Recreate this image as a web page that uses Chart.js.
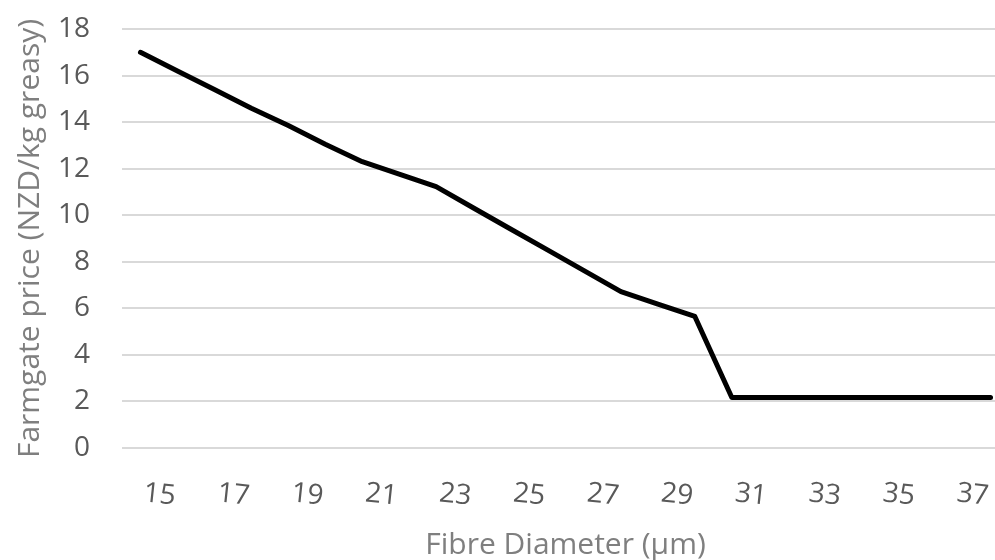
<!DOCTYPE html>
<html>
<head>
<meta charset="utf-8">
<script src="https://cdn.jsdelivr.net/npm/chart.js@4.4.1/dist/chart.umd.min.js"></script>
<style>
  html, body { margin: 0; padding: 0; background: #fff; overflow: hidden; }
  #wrap { width: 1024px; height: 560px; }
</style>
</head>
<body>
<div id="wrap"><canvas id="myChart" width="1024" height="560"></canvas></div>
<script>
// fibre diameter categories (micron), one per integer
var diameters = ['15', '16', '17', '18', '19', '20', '21', '22', '23', '24', '25', '26',
                 '27', '28', '29', '30', '31', '32', '33', '34', '35', '36', '37', '38'];
// farmgate price, NZD/kg greasy
var prices = [17.0, 16.2, 15.4, 14.6, 13.85, 13.05, 12.3, 11.77, 11.23, 10.32, 9.42, 8.52,
              7.62, 6.72, 6.18, 5.65, 2.17, 2.17, 2.17, 2.17, 2.17, 2.17, 2.17, 2.17];
var yTicks = [0, 2, 4, 6, 8, 10, 12, 14, 16, 18];

var tickColor = '#595959';
var titleColor = '#7f7f7f';
var gridColor = '#d9d9d9';
var fontFamily = '"Open Sans", "Liberation Sans", sans-serif';

var ctx = document.getElementById('myChart').getContext('2d');
var chart = new Chart(ctx, {
    type: 'line',
    data: {
        labels: diameters,
        datasets: [{
            label: 'Farmgate price',
            data: prices,
            borderColor: '#000000',
            borderWidth: 5,
            borderCapStyle: 'round',
            borderJoinStyle: 'round',
            pointRadius: 0,
            tension: 0,
            fill: false
        }]
    },
    options: {
        responsive: false,
        animation: false,
        layout: { padding: { left: 0, right: 15, top: 29, bottom: 0 } },
        plugins: {
            legend: { display: false },
            tooltip: { enabled: false }
        },
        scales: {
            x: {
                offset: true,
                grid: { display: false, drawTicks: false },
                border: { display: false },
                ticks: {
                    autoSkip: false,
                    minRotation: -6,
                    maxRotation: -6,
                    labelOffset: 35,
                    padding: 32,
                    color: tickColor,
                    font: { family: fontFamily, size: 28 },
                    callback: function(value, index) {
                        return index % 2 === 0 ? diameters[index] : '';
                    }
                },
                title: {
                    display: true,
                    text: 'Fibre Diameter (µm)',
                    color: titleColor,
                    font: { family: fontFamily, size: 30, lineHeight: 1 },
                    padding: { top: 0, bottom: 0 }
                },
                afterFit: function(scale) {
                    scale.height = 112;
                }
            },
            y: {
                min: 0,
                max: 18,
                afterBuildTicks: function(scale) {
                    scale.ticks = yTicks.map(function(v) { return { value: v }; });
                },
                grid: { color: gridColor, lineWidth: 2, drawTicks: false },
                border: { display: false },
                ticks: {
                    padding: 32,
                    color: tickColor,
                    font: { family: fontFamily, size: 28 }
                },
                title: {
                    display: true,
                    text: 'Farmgate price (NZD/kg greasy)',
                    color: titleColor,
                    font: { family: fontFamily, size: 30, lineHeight: 1.2 },
                    padding: { top: 12, bottom: 0 }
                },
                afterFit: function(scale) {
                    scale.width = 122;
                    scale.paddingTop = 0;
                    scale.paddingBottom = 0;
                }
            }
        }
    }
});
</script>
</body>
</html>
